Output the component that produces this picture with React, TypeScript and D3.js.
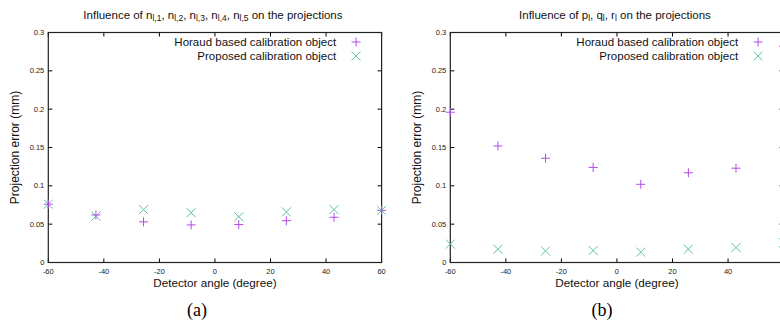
import { useEffect, useRef } from "react";
import * as d3 from "d3";

// Angles du détecteur (8 positions)
const angles = [-60, -42.86, -25.71, -8.57, 8.57, 25.71, 42.86, 60];

// Panneau (a)
const horaudA = [0.076, 0.062, 0.053, 0.049, 0.0495, 0.0545, 0.059, 0.068];
const proposedA = [0.076, 0.0605, 0.069, 0.065, 0.0597, 0.066, 0.069, 0.068];

// Panneau (b)
const horaudB = [0.196, 0.152, 0.136, 0.124, 0.102, 0.117, 0.123, 0.282];
const proposedB = [0.024, 0.0174, 0.015, 0.0156, 0.0135, 0.0174, 0.0195, 0.0256];

const xTicks = [-60, -40, -20, 0, 20, 40, 60];
const yTicks = [0, 0.05, 0.1, 0.15, 0.2, 0.25, 0.3];
const legendLabels = ["Horaud based calibration object", "Proposed calibration object"];

const FONT = "'Liberation Sans', Arial, sans-serif";
const colorPlus = "#b34ce8";
const colorCross = "#5cc3a0";
const W = 780;

const App = () => {
  const ref = useRef<SVGSVGElement | null>(null);

  useEffect(() => {
    if (!ref.current) return;
    const svg = d3.select(ref.current);
    svg.selectAll("*").remove();

    const panels = [
      {
        left: 48.3,
        right: 381.6,
        horaud: horaudA,
        proposed: proposedA,
        title: [
          { t: "Influence of n" }, { t: "l,1", sub: true }, { t: ", n" }, { t: "l,2", sub: true },
          { t: ", n" }, { t: "l,3", sub: true }, { t: ", n" }, { t: "l,4", sub: true },
          { t: ", n" }, { t: "l,5", sub: true }, { t: " on the projections" },
        ],
        caption: "(a)",
        captionX: 197,
      },
      {
        left: 450.3,
        right: 783.6,
        horaud: horaudB,
        proposed: proposedB,
        title: [
          { t: "Influence of p" }, { t: "l", sub: true }, { t: ", q" }, { t: "l", sub: true },
          { t: ", r" }, { t: "l", sub: true }, { t: " on the projections" },
        ],
        caption: "(b)",
        captionX: 602,
      },
    ];

    const top = 32.5;
    const bottom = 262.5;

    panels.forEach((p) => {
      const x = d3.scaleLinear().domain([-60, 60]).range([p.left, p.right]);
      const y = d3.scaleLinear().domain([0, 0.3]).range([bottom, top]);
      const g = svg.append("g");

      // Ticks (bas, haut, gauche, droite)
      xTicks.forEach((t) => {
        g.append("line").attr("x1", x(t)).attr("x2", x(t)).attr("y1", bottom).attr("y2", bottom - 4)
          .attr("stroke", "#000").attr("stroke-width", 1);
        g.append("line").attr("x1", x(t)).attr("x2", x(t)).attr("y1", top).attr("y2", top + 4)
          .attr("stroke", "#000").attr("stroke-width", 1);
        // étiquette seulement si elle tient dans l'image
        if (x(t) + 5 < W) {
          g.append("text").attr("x", x(t)).attr("y", 273.5).attr("text-anchor", "middle")
            .style("font-family", FONT).style("font-size", "7.5px").style("fill", "#222")
            .text(t);
        }
      });
      yTicks.forEach((t) => {
        g.append("line").attr("x1", p.left).attr("x2", p.left + 4).attr("y1", y(t)).attr("y2", y(t))
          .attr("stroke", "#000").attr("stroke-width", 1);
        g.append("line").attr("x1", p.right).attr("x2", p.right - 4).attr("y1", y(t)).attr("y2", y(t))
          .attr("stroke", "#000").attr("stroke-width", 1);
        g.append("text").attr("x", p.left - 4).attr("y", y(t) + 2.5).attr("text-anchor", "end")
          .style("font-family", FONT).style("font-size", "7.5px").style("fill", "#222")
          .text(t);
      });

      // Cadre
      g.append("rect").attr("x", p.left).attr("y", top).attr("width", p.right - p.left)
        .attr("height", bottom - top).attr("fill", "none").attr("stroke", "#222").attr("stroke-width", 1.2);

      // Titre
      const title = g.append("text").attr("x", (p.left + p.right) / 2 - 2).attr("y", 19)
        .attr("text-anchor", "middle").style("font-family", FONT).style("font-size", "11.5px")
        .style("fill", "#111");
      p.title.forEach((s: any) => {
        const ts = title.append("tspan").text(s.t);
        if (s.sub) ts.attr("baseline-shift", "-25%").style("font-size", "8.5px");
      });

      // Libellés des axes
      g.append("text").attr("x", (p.left + p.right) / 2).attr("y", 287).attr("text-anchor", "middle")
        .style("font-family", FONT).style("font-size", "11.7px").style("fill", "#111")
        .text("Detector angle (degree)");
      g.append("text").attr("transform", `translate(${p.left - 29},${(top + bottom) / 2}) rotate(-90)`)
        .attr("text-anchor", "middle").style("font-family", FONT).style("font-size", "12px")
        .style("fill", "#111").text("Projection error (mm)");

      // Légende
      const legX = p.right - 45.5;
      const mk = p.right - 25.5;
      [0, 1].forEach((i) => {
        const ly = 42 + i * 14;
        g.append("text").attr("x", legX).attr("y", ly + 4).attr("text-anchor", "end")
          .style("font-family", FONT).style("font-size", "11.5px").style("fill", "#111")
          .text(legendLabels[i]);
        if (i === 0) drawPlus(g, mk, ly);
        else drawCross(g, mk, ly);
      });

      // Points
      p.proposed.forEach((v, i) => drawCross(g, x(angles[i]), y(v)));
      p.horaud.forEach((v, i) => drawPlus(g, x(angles[i]), y(v)));

      // Légende du sous-graphique
      g.append("text").attr("x", p.captionX).attr("y", 316).attr("text-anchor", "middle")
        .style("font-family", "'Liberation Serif', 'DejaVu Serif', serif").style("font-size", "18px")
        .style("fill", "#000").text(p.caption);
    });

    function drawPlus(g: any, cx: number, cy: number) {
      const r = 4.5;
      g.append("path").attr("d", `M${cx - r},${cy}H${cx + r}M${cx},${cy - r}V${cy + r}`)
        .attr("stroke", colorPlus).attr("stroke-width", 1).attr("fill", "none");
    }
    function drawCross(g: any, cx: number, cy: number) {
      const r = 4.5;
      g.append("path").attr("d", `M${cx - r},${cy - r}L${cx + r},${cy + r}M${cx - r},${cy + r}L${cx + r},${cy - r}`)
        .attr("stroke", colorCross).attr("stroke-width", 1).attr("fill", "none");
    }
  }, []);

  return (
    <svg
      ref={ref}
      width={W}
      height={322}
      style={{ position: "absolute", left: 0, top: 0, background: "#fff" }}
    />
  );
};

export default App;
